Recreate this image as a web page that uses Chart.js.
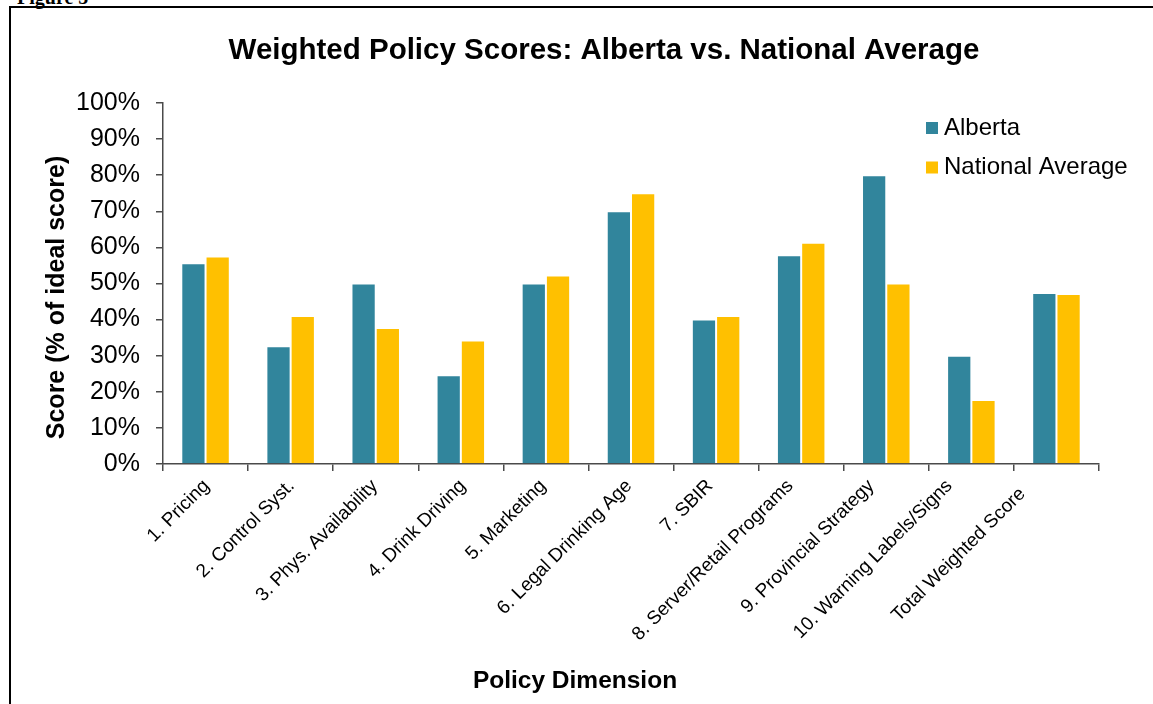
<!DOCTYPE html>
<html>
<head>
<meta charset="utf-8">
<script src="https://cdn.jsdelivr.net/npm/chart.js@4.4.1/dist/chart.umd.min.js"></script>
<style>
    html, body { margin: 0; padding: 0; background: #fff; overflow: hidden; width: 1153px; height: 704px; }
    #frame { position: absolute; left: 9px; top: 6px; width: 1400px; height: 900px; border: 2px solid #000; box-sizing: border-box; }
    #fig { position: absolute; left: 17px; top: -13px; font: bold 20px "Liberation Serif", serif; line-height: 20px; }
    canvas { position: absolute; left: 0; top: 0; }
</style>
</head>
<body>
<div id="fig">Figure 5</div>
<div id="frame"></div>
<canvas id="policyChart" width="1208" height="704"></canvas>
<script>
var categories = ['1. Pricing', '2. Control Syst.', '3. Phys. Availability', '4. Drink Driving',
    '5. Marketing', '6. Legal Drinking Age', '7. SBIR', '8. Server/Retail Programs',
    '9. Provincial Strategy', '10. Warning Labels/Signs', 'Total Weighted Score'];
var albertaScores = [55.6, 32.6, 50, 24.6, 50, 70, 40, 57.8, 80, 30, 47.4];
var nationalScores = [57.5, 41, 37.7, 34.2, 52.2, 75, 41, 61.3, 50, 17.7, 47.1];
var yTicks = [0, 10, 20, 30, 40, 50, 60, 70, 80, 90, 100];

var FONT = '"Liberation Sans", Arial, sans-serif';

// the original's slanted labels drift left of their ticks towards the right end
var labelShiftX = [1, 1, -1, 2, -3, -2, -6, -11, -15, -22, -34];
var labelShiftY = [0, 0, 0, 0, 0, 0, 0, 0, 0, 0, 8];

// title, category labels, legend and axis titles, drawn where the original puts them
var extras = {
    id: 'extras',
    afterDraw: function(chart) {
        var ctx = chart.ctx, area = chart.chartArea, xs = chart.scales.x;
        ctx.save();
        ctx.fillStyle = '#000';
        ctx.textBaseline = 'middle';
        ctx.textAlign = 'center';
        ctx.font = 'bold 29.5px ' + FONT;
        ctx.fillText('Weighted Policy Scores: Alberta vs. National Average', 604, 51);

        ctx.font = '19px ' + FONT;
        ctx.textAlign = 'right';
        chart.data.labels.forEach(function(lab, i) {
            ctx.save();
            ctx.translate(xs.getPixelForTick(i) + labelShiftX[i], area.bottom + 19 + labelShiftY[i]);
            ctx.rotate(-Math.PI / 4);
            ctx.fillText(lab, 0, 0);
            ctx.restore();
        });

        ctx.font = '24px ' + FONT;
        ctx.textAlign = 'left';
        chart.data.datasets.forEach(function(ds, i) {
            var y = area.top + 25 + i * 39.5;
            ctx.fillStyle = ds.backgroundColor;
            ctx.fillRect(area.right - 173, y - 6, 12, 12);
            ctx.fillStyle = '#000';
            ctx.fillText(ds.label, area.right - 155, y);
        });

        ctx.textAlign = 'center';
        ctx.font = 'bold 24.5px ' + FONT;
        ctx.fillText('Policy Dimension', 575, 681);
        ctx.translate(57.5, 297.5);
        ctx.rotate(-Math.PI / 2);
        ctx.font = 'bold 25px ' + FONT;
        ctx.fillText('Score (% of ideal score)', 0, 0);
        ctx.restore();
    }
};

var ctx = document.getElementById('policyChart').getContext('2d');
var chart = new Chart(ctx, {
    type: 'bar',
    data: {
        labels: categories,
        datasets: [{
            label: 'Alberta',
            data: albertaScores,
            backgroundColor: '#31859C',
            borderColor: 'rgba(255,255,255,0.55)',
            borderWidth: 1
        }, {
            label: 'National Average',
            data: nationalScores,
            backgroundColor: '#FFC000',
            borderColor: 'rgba(255,255,255,0.55)',
            borderWidth: 1
        }]
    },
    plugins: [extras],
    options: {
        responsive: false,
        animation: false,
        devicePixelRatio: 1,
        categoryPercentage: 0.57,
        barPercentage: 1,
        layout: { padding: { top: 103, left: 0, right: 109, bottom: 0 } },
        plugins: {
            legend: { display: false },
            tooltip: { enabled: false },
            title: { display: false }
        },
        scales: {
            x: {
                afterFit: function(scale) { scale.height = 240; },
                border: { color: '#4a4a4a', width: 1.5 },
                grid: { drawOnChartArea: false, tickLength: 7, color: '#4a4a4a', tickColor: '#4a4a4a', lineWidth: 1.5, offset: true },
                ticks: { display: false, autoSkip: false }
            },
            y: {
                min: 0,
                max: 100,
                afterFit: function(scale) { scale.width = 163; },
                afterBuildTicks: function(scale) {
                    scale.ticks = yTicks.map(function(v) { return { value: v }; });
                },
                border: { color: '#4a4a4a', width: 1.5 },
                grid: { drawOnChartArea: false, tickLength: 7, color: '#4a4a4a', tickColor: '#4a4a4a', lineWidth: 1.5 },
                ticks: {
                    padding: 16,
                    color: '#000',
                    font: { family: FONT, size: 25 },
                    callback: function(v) { return v + '%'; }
                }
            }
        }
    }
});
</script>
</body>
</html>
